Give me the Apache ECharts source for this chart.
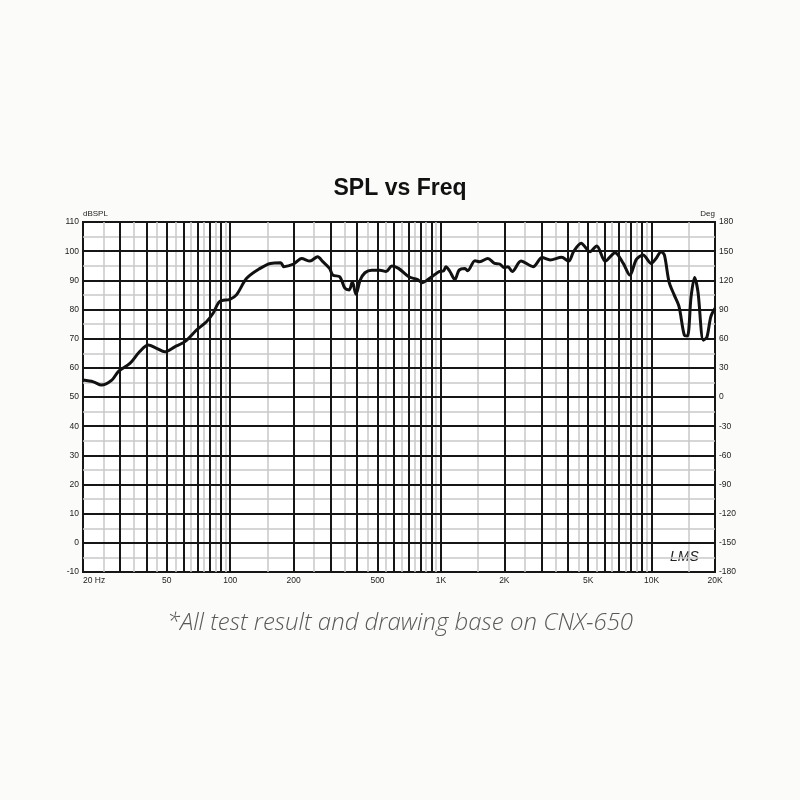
<!DOCTYPE html>
<html><head><meta charset="utf-8">
<script src="https://cdn.jsdelivr.net/npm/echarts@6/dist/echarts.min.js"></script>
<style>html,body{margin:0;background:#fbfbf9}#c{width:800px;height:800px}</style>
</head><body><div id="c"></div>
<script>
const freqHz = [20,22.4,24.5,27.4,29.4,33.4,37.1,40.8,44.7,48.9,54.5,60.9,69.3,77.1,82.9,89,99.6,107,119.6,138.6,155,173.6,179.6,200,218,239,260,275,296,307,331,350,367,380,395,414,436,469,514,549,585,629,704,771,815,862,928,981,1030,1056,1100,1165,1220,1300,1340,1450,1530,1670,1800,1900,2000,2080,2180,2400,2740,3020,3300,3740,4040,4260,4630,5100,5490,6030,6710,7340,7890,8470,9110,9960,10500,11100,11500,12100,12800,13500,14300,14800,15400,16000,16600,17600,18300,19100,20000];
const splDb = [55.8,55.2,54.1,55.8,58.7,61.5,65.5,67.8,66.7,65.5,67.2,69.0,73.0,75.8,78.7,82.7,83.5,85.0,90.7,94.1,95.8,96.0,94.7,95.6,97.5,96.6,98.1,96.4,94.1,91.8,91.2,87.3,86.7,89.5,85.2,90.1,92.6,93.5,93.5,93.0,94.9,94.1,91.2,90.3,89.2,90.1,91.8,93.0,93.3,94.7,93.2,90.3,93.5,94.1,93.3,96.7,96.4,97.5,95.8,95.6,94.3,94.7,93.0,96.6,94.7,97.8,97.0,97.9,96.6,99.8,102.7,99.8,101.8,96.6,99.5,95.8,91.8,97.2,98.7,95.8,97.5,99.8,98.7,89.5,85.0,81.0,71.2,70.9,84.4,91.0,86.1,69.5,70.5,77.5,80.4];
const xTickValues = [20,50,100,200,500,1000,2000,5000,10000,20000];
const xTickLabels = ['20 Hz','50','100','200','500','1K','2K','5K','10K','20K'];
const majorFreqLines = [30,40,50,60,70,80,90,100,200,300,400,500,600,700,800,900,1000,2000,3000,4000,5000,6000,7000,8000,9000,10000];
const minorFreqLines = [25,35,45,55,65,75,85,95,150,250,350,450,550,650,750,850,950,1500,2500,3500,4500,5500,6500,7500,8500,9500,15000];
const majorDbLines = [0,10,20,30,40,50,60,70,80,90,100];
const minorDbLines = [-5,5,15,25,35,45,55,65,75,85,95,105];

const LIGHT = {color:'#c9c9c9', width:1.5, type:'solid'};
const HEAVY = {color:'#161616', width:2, type:'solid'};
const gridLines = []
  .concat(minorFreqLines.map(v=>({xAxis:v, lineStyle:LIGHT})))
  .concat(minorDbLines.map(v=>({yAxis:v, lineStyle:LIGHT})))
  .concat(majorDbLines.map(v=>({yAxis:v, lineStyle:HEAVY})))
  .concat(majorFreqLines.map(v=>({xAxis:v, lineStyle:HEAVY})));

const LBL = {fontFamily:'Liberation Sans', fontSize:8.5, color:'#222', margin:4};
const chart = echarts.init(document.getElementById('c'));
chart.setOption({
  backgroundColor:'#fbfbf9',
  animation:false,
  title:{text:'SPL vs Freq', left:'center', top:172, textStyle:{fontFamily:'Liberation Sans', fontWeight:'bold', fontSize:23, color:'#111'}},
  grid:{left:83, top:222, width:632, height:350, show:true, borderColor:'#161616', borderWidth:2, backgroundColor:'#ffffff'},
  xAxis:{type:'log', logBase:10, min:20, max:20000,
    axisLine:{show:false}, axisTick:{show:false}, splitLine:{show:false},
    axisLabel:Object.assign({customValues:xTickValues, formatter:(v)=>{const i=xTickValues.indexOf(Math.round(v)); return i>=0?xTickLabels[i]:'';}, showMinLabel:true, showMaxLabel:true, alignMinLabel:'left'}, LBL)},
  yAxis:[
    {type:'value', min:-10, max:110, interval:10, name:'dBSPL', nameLocation:'end', nameGap:4,
      nameTextStyle:{fontSize:8, color:'#222', align:'left', fontFamily:'Liberation Sans'},
      axisLine:{show:false}, axisTick:{show:false}, splitLine:{show:false},
      axisLabel:LBL},
    {type:'value', min:-180, max:180, interval:30, name:'Deg', nameLocation:'end', nameGap:4,
      nameTextStyle:{fontSize:8, color:'#222', align:'right', fontFamily:'Liberation Sans'},
      axisLine:{show:false}, axisTick:{show:false}, splitLine:{show:false},
      axisLabel:LBL}
  ],
  graphic:[
    {type:'text', left:'center', top:611, style:{text:'*All test result and drawing base on CNX-650', font:'italic 300 24px "Open Sans", "Liberation Sans"', fill:'#5a5a5a'}},
    {type:'text', left:670, top:550, style:{text:'LMS', font:'italic 14px "Liberation Sans"', fill:'#222'}}
  ],
  series:[
    {type:'line', data:[], silent:true,
      markLine:{silent:true, symbol:'none', label:{show:false}, animation:false, data:gridLines}},
    {type:'line', z:5, data:freqHz.map((f,i)=>[f,splDb[i]]), smooth:0.3, symbol:'none',
      lineStyle:{color:'#111', width:3}}
  ]
});
</script></body></html>
